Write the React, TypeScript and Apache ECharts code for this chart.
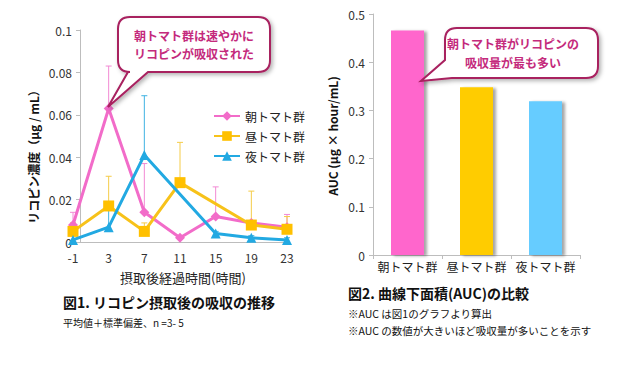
import React, { useEffect, useRef } from "react";
import * as echarts from "echarts";

// ---- Data ----
const hours = ["-1", "3", "7", "11", "15", "19", "23"];
const morning = [0.008, 0.063, 0.014, 0.002, 0.012, 0.009, 0.007];
const morningSD = [0.006, 0.02, 0.023, 0, 0.014, 0, 0.006];
const noon = [0.005, 0.017, 0.005, 0.028, null, 0.008, 0.006];
const noonSD = [0.004, 0.014, 0.004, 0.019, 0, 0.016, 0.006];
const night = [0.001, 0.007, 0.041, null, 0.004, 0.002, 0.001];
const nightSD = [0, 0.008, 0.028, 0, 0.001, 0.001, 0.001];
const leftTicks = { min: 0, max: 0.1, interval: 0.02 };

const groups = ["朝トマト群", "昼トマト群", "夜トマト群"];
const auc = [0.466, 0.348, 0.319];
const rightTicks = { min: 0, max: 0.5, interval: 0.1 };

const PINK = "#f26cc9";
const YELLOW = "#f7c21a";
const BLUE = "#22a9e2";
const BAR_COLORS = ["#ff66cc", "#ffcc00", "#66ccff"];
const FONT = "'Noto Sans CJK JP', 'Noto Sans', sans-serif";
const CALLOUT_TEXT = "#c42a7c";
const CALLOUT_BORDER = "#a8205f";

function calloutBottom(x0: number, y0: number, x1: number, y1: number, r: number, b1: number, b2: number, tx: number, ty: number) {
  return `M${x0 + r} ${y0} L${x1 - r} ${y0} Q${x1} ${y0} ${x1} ${y0 + r} L${x1} ${y1 - r} Q${x1} ${y1} ${x1 - r} ${y1} L${b2} ${y1} L${tx} ${ty} L${b1} ${y1} L${x0 + r} ${y1} Q${x0} ${y1} ${x0} ${y1 - r} L${x0} ${y0 + r} Q${x0} ${y0} ${x0 + r} ${y0} Z`;
}
function calloutLeft(x0: number, y0: number, x1: number, y1: number, r: number, bx: number, by: number, tx: number, ty: number) {
  return `M${x0 + r} ${y0} L${x1 - r} ${y0} Q${x1} ${y0} ${x1} ${y0 + r} L${x1} ${y1 - r} Q${x1} ${y1} ${x1 - r} ${y1} L${bx} ${y1} L${tx} ${ty} L${x0} ${by} L${x0} ${y0 + r} Q${x0} ${y0} ${x0 + r} ${y0} Z`;
}

let registered = false;
function registerCallouts() {
  if (registered) return;
  registered = true;
  echarts.graphic.registerShape(
    "calloutA",
    (echarts.graphic as any).extendPath(calloutBottom(118, 17, 270, 72, 12, 128, 148, 108, 107), {})
  );
  echarts.graphic.registerShape(
    "calloutB",
    (echarts.graphic as any).extendPath(calloutLeft(445, 28, 598, 78, 12, 452, 60, 421, 81), {})
  );
}

function errData(mean: (number | null)[], sd: number[]) {
  const out: number[][] = [];
  mean.forEach((m, i) => {
    if (m != null && sd[i] > 0) out.push([i, m, m + sd[i]]);
  });
  return out;
}

function errSeries(mean: (number | null)[], sd: number[], color: string) {
  return {
    type: "custom",
    xAxisIndex: 0,
    yAxisIndex: 0,
    z: 1,
    silent: true,
    data: errData(mean, sd),
    encode: { x: 0, y: [1, 2] },
    renderItem: (_p: any, api: any) => {
      const i = api.value(0);
      const a = api.coord([i, api.value(1)]);
      const b = api.coord([i, api.value(2)]);
      return {
        type: "group",
        children: [
          { type: "line", shape: { x1: a[0], y1: a[1], x2: b[0], y2: b[1] }, style: { stroke: color, lineWidth: 1 } },
          { type: "line", shape: { x1: b[0] - 3, y1: b[1], x2: b[0] + 3, y2: b[1] }, style: { stroke: color, lineWidth: 1 } },
        ],
      };
    },
  };
}

function txt(text: string, x: number, y: number, size: number, opts: any = {}) {
  return {
    type: "text",
    x,
    y,
    rotation: opts.rotation || 0,
    z: 100,
    style: {
      text,
      x: 0,
      y: 0,
      fill: opts.fill || "#111",
      fontSize: size,
      fontWeight: opts.bold ? "bold" : "normal",
      fontFamily: FONT,
      textAlign: opts.align || "left",
      textVerticalAlign: "middle",
      lineHeight: opts.lineHeight || size * 1.3,
    },
  };
}

export default function App() {
  const ref = useRef<HTMLDivElement>(null);
  useEffect(() => {
    if (!ref.current) return;
    registerCallouts();
    const chart = echarts.init(ref.current, undefined, { renderer: "svg" });
    const axisLine = { show: true, lineStyle: { color: "#bdbdbd", width: 1 } };
    chart.setOption({
      animation: false,
      backgroundColor: "#ffffff",
      textStyle: { fontFamily: FONT },
      grid: [
        { left: 73, right: 353, top: 30, bottom: 141 },
        { left: 373, right: 60, top: 14, bottom: 128 },
      ],
      legend: {
        orient: "vertical",
        left: 208,
        top: 105,
        itemGap: 8,
        itemWidth: 26,
        itemHeight: 12,
        data: ["朝トマト群", "昼トマト群", "夜トマト群"],
        textStyle: { fontSize: 12, color: "#222", fontFamily: FONT },
      },
      xAxis: [
        {
          type: "category",
          gridIndex: 0,
          data: hours,
          boundaryGap: false,
          axisLine,
          axisTick: { show: false },
          axisLabel: { fontSize: 12, color: "#333", margin: 9, interval: 0 },
        },
        {
          type: "category",
          gridIndex: 1,
          data: groups,
          axisLine,
          axisTick: { show: true, length: 4, lineStyle: { color: "#bdbdbd" } },
          axisLabel: { fontSize: 12, color: "#222", margin: 5, interval: 0 },
        },
      ],
      yAxis: [
        {
          type: "value",
          gridIndex: 0,
          ...leftTicks,
          offset: -7,
          axisLine,
          axisTick: { show: true, length: 4, lineStyle: { color: "#bdbdbd" } },
          splitLine: { show: false },
          axisLabel: { fontSize: 12, color: "#333", margin: 8 },
        },
        {
          type: "value",
          gridIndex: 1,
          ...rightTicks,
          axisLine,
          axisTick: { show: true, length: 4, lineStyle: { color: "#bdbdbd" } },
          splitLine: { show: false },
          axisLabel: { fontSize: 12, color: "#333", margin: 8 },
        },
      ],
      series: [
        errSeries(morning, morningSD, "#f28ad4"),
        errSeries(noon, noonSD, "#f5cc48"),
        errSeries(night, nightSD, "#3fb2e2"),
        {
          name: "朝トマト群",
          type: "line",
          data: morning,
          color: PINK,
          lineStyle: { width: 3, color: PINK },
          itemStyle: { color: PINK },
          symbol: "diamond",
          symbolSize: 10,
          z: 3,
        },
        {
          name: "昼トマト群",
          type: "line",
          data: noon,
          connectNulls: true,
          color: YELLOW,
          lineStyle: { width: 3, color: YELLOW },
          itemStyle: { color: "#ffc000" },
          symbol: "rect",
          symbolSize: 11,
          z: 4,
        },
        {
          name: "夜トマト群",
          type: "line",
          data: night,
          connectNulls: true,
          color: BLUE,
          lineStyle: { width: 3, color: BLUE },
          itemStyle: { color: BLUE },
          symbol: "triangle",
          symbolSize: 10,
          z: 5,
        },
        {
          type: "bar",
          xAxisIndex: 1,
          yAxisIndex: 1,
          barWidth: 33,
          data: auc.map((v, i) => ({
            value: v,
            itemStyle: {
              color: BAR_COLORS[i],
              shadowColor: "rgba(0,0,0,0.35)",
              shadowBlur: 3,
              shadowOffsetX: 3,
              shadowOffsetY: 1,
            },
          })),
        },
      ],
      graphic: [
        {
          type: "calloutA",
          x: 0,
          y: 0,
          z: 50,
          style: {
            fill: "#ffffff",
            stroke: CALLOUT_BORDER,
            lineWidth: 2,
            shadowBlur: 4,
            shadowColor: "rgba(0,0,0,0.3)",
            shadowOffsetX: 2,
            shadowOffsetY: 2,
          },
        },
        txt("朝トマト群は速やかに\nリコピンが吸収された", 194, 44, 12, { bold: true, fill: CALLOUT_TEXT, align: "center", lineHeight: 18 }),
        {
          type: "calloutB",
          x: 0,
          y: 0,
          z: 50,
          style: {
            fill: "#ffffff",
            stroke: CALLOUT_BORDER,
            lineWidth: 2,
            shadowBlur: 4,
            shadowColor: "rgba(0,0,0,0.3)",
            shadowOffsetX: 2,
            shadowOffsetY: 2,
          },
        },
        txt("朝トマト群がリコピンの\n吸収量が最も多い", 513, 53, 12, { bold: true, fill: CALLOUT_TEXT, align: "center", lineHeight: 19 }),
        txt("リコピン濃度（μg / mL）", 33, 154, 12, { bold: true, align: "center", rotation: Math.PI / 2 }),
        txt("AUC (μg × hour/mL)", 332, 136, 12, { bold: true, align: "center", rotation: Math.PI / 2 }),
        txt("摂取後経過時間(時間)", 183, 277, 13, { align: "center", fill: "#222" }),
        txt("図1. リコピン摂取後の吸収の推移", 63, 302, 14, { bold: true }),
        txt("平均値＋標準偏差、n =3- 5", 63, 322, 10),
        txt("図2. 曲線下面積(AUC)の比較", 348, 293, 14, { bold: true }),
        txt("※AUC は図1のグラフより算出", 348, 313, 10.5),
        txt("※AUC の数値が大きいほど吸収量が多いことを示す", 348, 330, 10.5),
      ],
    });
    return () => chart.dispose();
  }, []);
  return (
    <div
      ref={ref}
      style={{ position: "fixed", left: 0, top: 0, width: 640, height: 383 }}
    />
  );
}
